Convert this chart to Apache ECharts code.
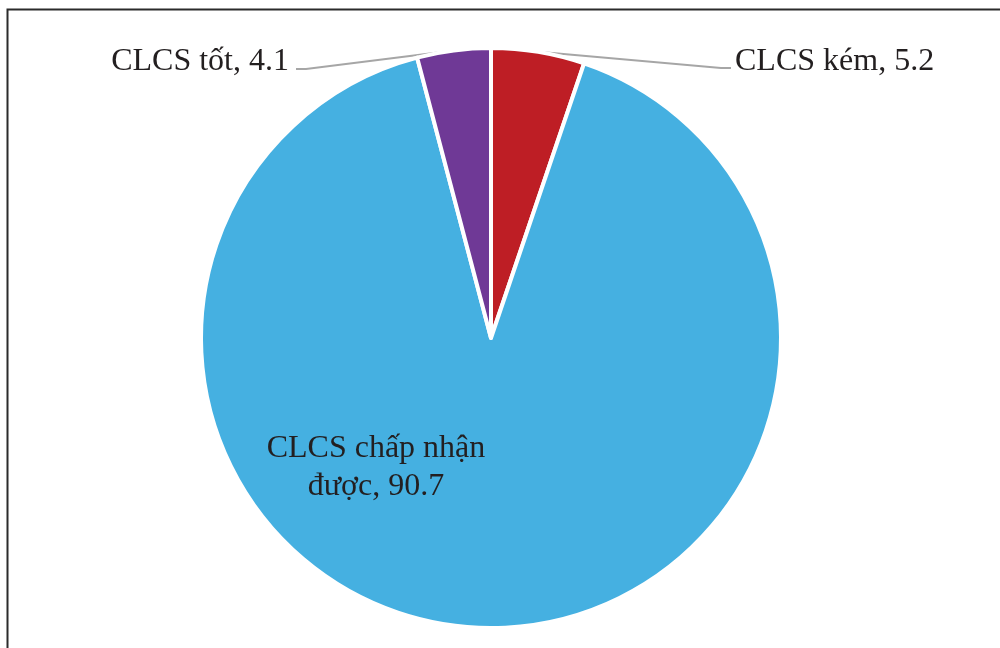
<!DOCTYPE html>
<html>
<head>
<meta charset="utf-8">
<script src="https://cdn.jsdelivr.net/npm/echarts@6/dist/echarts.min.js"></script>
<style>
  html, body { margin: 0; padding: 0; background: #fff; }
  #chart { width: 1000px; height: 648px; }
</style>
</head>
<body>
<div id="chart"></div>
<script>
// chất lượng cuộc sống (%)
const categories = ['CLCS kém', 'CLCS chấp nhận được', 'CLCS tốt']
const values = [5.2, 90.7, 4.1]
const colors = ['#be1e25', '#45b0e1', '#6f3996']
const labelTexts = ['CLCS kém, 5.2', 'CLCS chấp nhận\nđược, 90.7', 'CLCS tốt, 4.1']

const chart = echarts.init(document.getElementById('chart'))

const textStyle = {
  fontFamily: 'Liberation Serif',
  fontSize: 32,
  color: '#231f20'
}

chart.setOption({
  animation: false,
  graphic: [
    // khung viền trên + trái
    {
      type: 'polyline',
      shape: { points: [[7.5, 648], [7.5, 9.5], [1000, 9.5]] },
      style: { stroke: '#2b2b2b', lineWidth: 2, fill: null }
    }
  ],
  series: [{
    type: 'pie',
    center: [491, 338],
    radius: 290,
    startAngle: 90,
    clockwise: true,
    itemStyle: {
      borderColor: '#fff',
      borderWidth: 4
    },
    label: Object.assign({
      show: true,
      formatter: function (p) { return labelTexts[p.dataIndex] }
    }, textStyle),
    labelLine: {
      show: true,
      length: 20,
      length2: 10,
      lineStyle: { color: '#a6a6a6', width: 2 }
    },
    labelLayout: function (params) {
      const i = params.dataIndex
      const p0 = params.labelLinePoints ? params.labelLinePoints[0] : null
      if (i === 0) {
        return {
          x: 735, y: 62, align: 'left', verticalAlign: 'middle',
          labelLinePoints: [p0, [721, 68], [731, 68]]
        }
      }
      if (i === 2) {
        return {
          x: 289, y: 62, align: 'right', verticalAlign: 'middle',
          labelLinePoints: [p0, [306, 69], [296, 69]]
        }
      }
      return { x: 376, y: 468, align: 'center', verticalAlign: 'middle' }
    },
    data: categories.map(function (name, i) {
      const item = {
        name: name,
        value: values[i],
        itemStyle: { color: colors[i] }
      }
      if (i === 1) {
        item.label = { position: 'inside', lineHeight: 38, align: 'center' }
        item.labelLine = { show: false }
      }
      return item
    })
  }]
})
</script>
</body>
</html>
